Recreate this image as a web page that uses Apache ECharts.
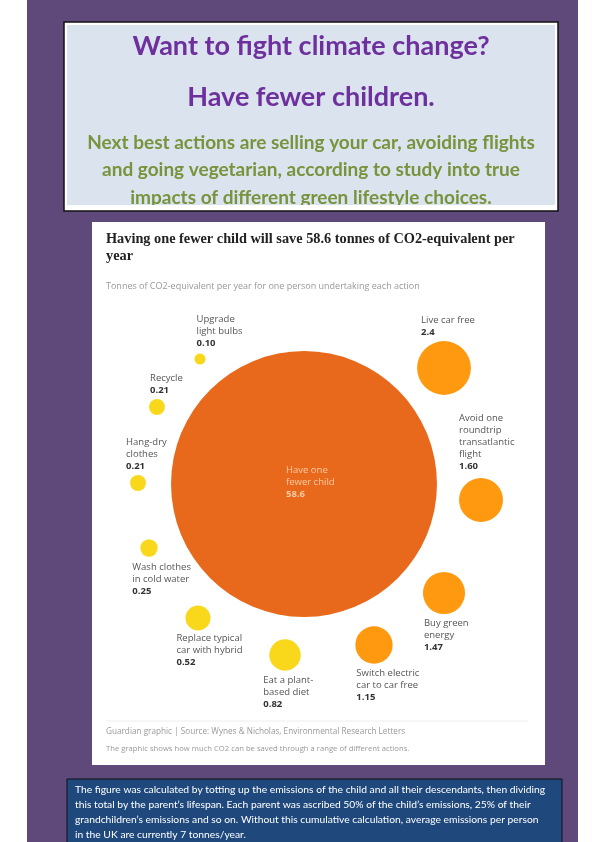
<!DOCTYPE html>
<html>
<head>
    <meta charset="UTF-8">
    <title>Want to fight climate change?</title>
    <script src="https://cdn.jsdelivr.net/npm/echarts@6/dist/echarts.min.js"></script>
    <style>
        body { margin: 0; background: #fff; }
        #main { width: 603px; height: 842px; }
    </style>
</head>
<body>
<div id="main"></div>
<script>
    // actions, tonnes CO2-eq saved per year
    var actions = [
        'Have one\nfewer child', 'Live car free', 'Avoid one\nroundtrip\ntransatlantic\nflight',
        'Buy green\nenergy', 'Switch electric\ncar to car free', 'Eat a plant-\nbased diet',
        'Replace typical\ncar with hybrid', 'Wash clothes\nin cold water', 'Hang-dry\nclothes',
        'Recycle', 'Upgrade\nlight bulbs'
    ];
    var savings = [58.6, 2.4, 1.60, 1.47, 1.15, 0.82, 0.52, 0.25, 0.21, 0.21, 0.10];
    var savingLabels = ['58.6', '2.4', '1.60', '1.47', '1.15', '0.82', '0.52', '0.25', '0.21', '0.21', '0.10'];

    // packed-bubble layout (data units of the hidden axes)
    var bubbleX = [212, 352, 389, 352, 282, 193, 106, 57, 46, 65, 108];
    var bubbleY = [262, 146, 278, 371, 423, 433, 396, 326, 261, 185, 137];
    var labelSide = ['inside', 'top', 'top', 'bottom', 'bottom', 'bottom', 'bottom', 'bottom', 'top', 'top', 'top'];
    var labelDx = [115, 4, 0, 1, 1, -6, -9, -8, -4, 1, 2];
    var labelGap = [113, 3, 6, 3, 4, 4, 2, 5, 3, 3, 4];

    var chart = echarts.init(document.getElementById('main'));

    function diam(v) {
        return 2 * 17.37 * Math.sqrt(v);
    }
    function bubbleColor(v) {
        if (v > 10) return '#e8691b';
        if (v >= 1) return '#ff9a10';
        return '#f9d81c';
    }

    var points = [];
    actions.forEach(function (name, i) {
        var d = diam(savings[i]);
        var side = labelSide[i];
        var pos, va;
        if (side == 'top') {
            pos = [labelDx[i], -labelGap[i]];
            va = 'bottom';
        } else if (side == 'bottom') {
            pos = [labelDx[i], d + labelGap[i]];
            va = 'top';
        } else {
            pos = [labelDx[i], labelGap[i]];
            va = 'top';
        }
        points.push({
            name: name,
            value: [bubbleX[i], bubbleY[i], savings[i]],
            itemStyle: { color: bubbleColor(savings[i]), opacity: 1 },
            label: {
                position: pos,
                align: 'left',
                verticalAlign: va,
                color: side == 'inside' ? '#f9cba4' : '#555',
                rich: {
                    v: {
                        fontFamily: 'Open Sans',
                        fontSize: 9.5,
                        fontWeight: 'bold',
                        lineHeight: 12,
                        color: side == 'inside' ? '#f9cba4' : '#333'
                    }
                }
            }
        });
    });

    var txt = function (x, y, text, style) {
        return {
            type: 'text', left: x, top: y, z: 10,
            style: Object.assign({ text: text }, style)
        };
    };
    var ctext = function (y, text, font, color) {
        return {
            type: 'text', z: 5,
            style: { x: 311, y: y, text: text, font: font, fill: color, textAlign: 'center', textVerticalAlign: 'middle' }
        };
    };

    var option = {
        animation: false,
        backgroundColor: '#fff',
        grid: { left: 92, top: 222, width: 453, height: 543 },
        xAxis: { type: 'value', min: 0, max: 453, show: false },
        yAxis: { type: 'value', min: 0, max: 543, inverse: true, show: false },
        graphic: [
            // purple page
            { type: 'rect', shape: { x: 27, y: 0, width: 551, height: 842 }, style: { fill: '#5f497a' }, z: 0 },
            // headline box
            { type: 'rect', shape: { x: 64, y: 22, width: 494, height: 189 }, style: { fill: '#fff', stroke: '#111', lineWidth: 1.5 }, z: 1 },
            { type: 'rect', shape: { x: 67, y: 25, width: 488, height: 181 }, style: { fill: '#dbe3ef' }, z: 2 },
            ctext(46, 'Want to fight climate change?', 'bold 27px Lato', '#6d309c'),
            ctext(97, 'Have fewer children.', 'bold 27px Lato', '#6d309c'),
            ctext(143, 'Next best actions are selling your car, avoiding flights', 'bold 19px Lato', '#77933c'),
            ctext(170, 'and going vegetarian, according to study into true', 'bold 19px Lato', '#77933c'),
            ctext(198, 'impacts of different green lifestyle choices.', 'bold 19px Lato', '#77933c'),
            // white strip that cuts off the last line
            { type: 'rect', shape: { x: 65, y: 205, width: 492, height: 5 }, style: { fill: '#fff' }, z: 6 },
            // chart card
            { type: 'rect', shape: { x: 92, y: 222, width: 453, height: 543 }, style: { fill: '#fff' }, z: 1 },
            txt(106, 231, 'Having one fewer child will save 58.6 tonnes of CO2-equivalent per\nyear', {
                font: 'bold 14.3px "Liberation Serif"', fill: '#222', lineHeight: 17
            }),
            txt(106, 282, 'Tonnes of CO2-equivalent per year for one person undertaking each action', {
                font: '9px "Open Sans"', fill: '#999'
            }),
            { type: 'line', shape: { x1: 106, y1: 721, x2: 528, y2: 721 }, style: { stroke: '#eee', lineWidth: 1 }, z: 3 },
            txt(106, 728, 'Guardian graphic | Source: Wynes & Nicholas, Environmental Research Letters', {
                font: '8.2px "Open Sans"', fill: '#999'
            }),
            txt(106, 745, 'The graphic shows how much CO2 can be saved through a range of different actions.', {
                font: '7.7px "Open Sans"', fill: '#999'
            }),
            // explanation box
            { type: 'rect', shape: { x: 67, y: 779, width: 495, height: 70 }, style: { fill: '#1f497d', stroke: '#111', lineWidth: 1 }, z: 1 },
            txt(75, 782, 'The figure was calculated by totting up the emissions of the child and all their descendants, then dividing\nthis total by the parent\u2019s lifespan. Each parent was ascribed 50% of the child\u2019s emissions, 25% of their\ngrandchildren\u2019s emissions and so on. Without this cumulative calculation, average emissions per person\nin the UK are currently 7 tonnes/year.', {
                font: '10.3px Lato', fill: '#fff', lineHeight: 15
            })
        ],
        series: [{
            type: 'scatter',
            z: 5,
            symbolSize: function (val) {
                return diam(val[2]);
            },
            label: {
                show: true,
                fontFamily: 'Open Sans',
                fontSize: 9.5,
                lineHeight: 12,
                formatter: function (p) {
                    return p.name + '\n{v|' + savingLabels[p.dataIndex] + '}';
                }
            },
            emphasis: { disabled: true },
            data: points
        }]
    };

    chart.setOption(option);
</script>
</body>
</html>
